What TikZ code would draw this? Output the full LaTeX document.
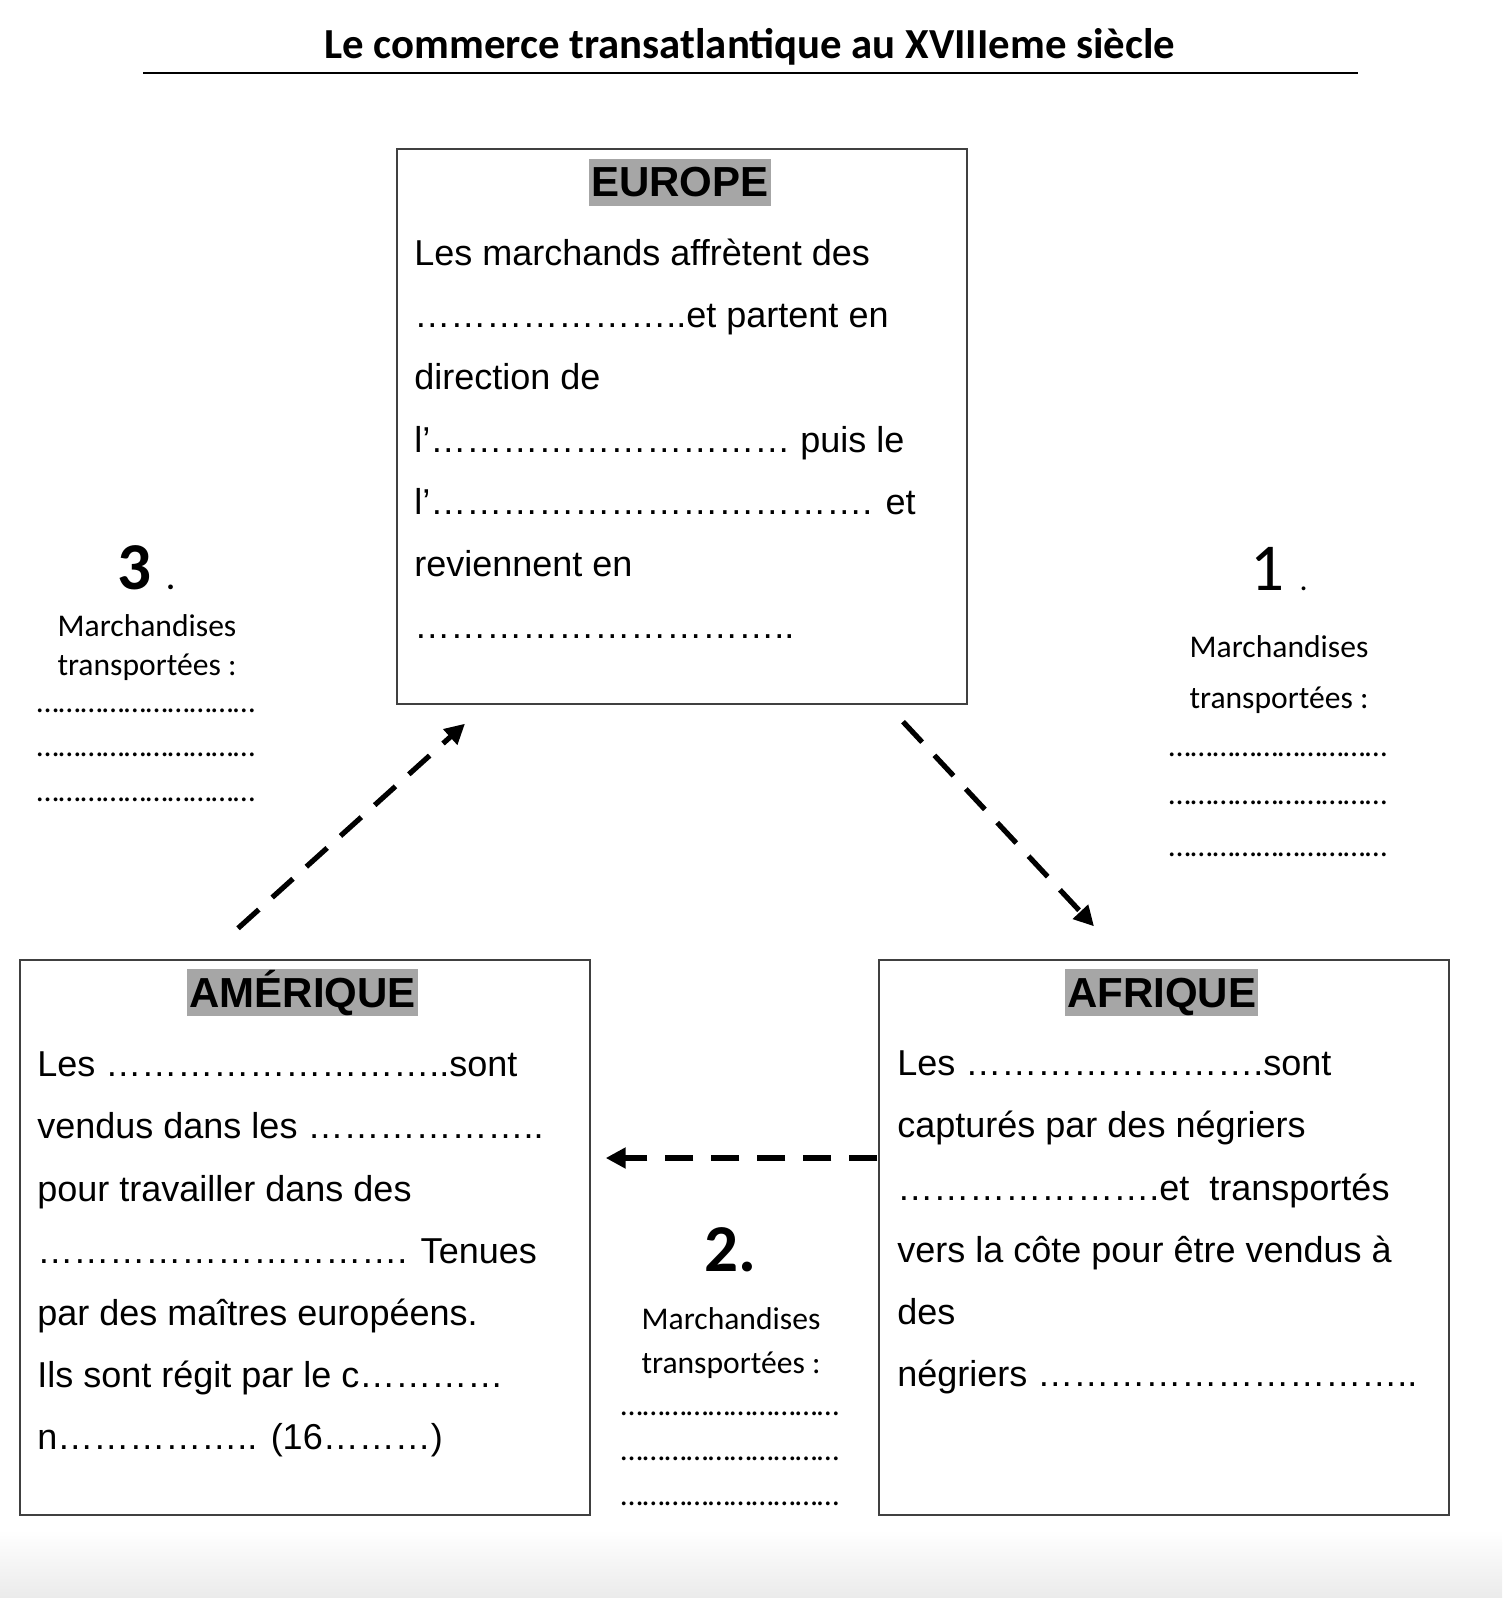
\documentclass[tikz,border=0pt]{standalone}
\usepackage{fontspec}
\setmainfont{Liberation Sans}
\newfontfamily\calibri{Carlito}
\usetikzlibrary{arrows.meta}
\definecolor{bordgris}{RGB}{64,64,64}
\definecolor{surligne}{RGB}{166,166,166}
\newcommand{\pointilles}[1]{\foreach \k in {1,...,#1}{…}}

\begin{document}
\begin{tikzpicture}[
    x=0.5pt, y=-0.5pt,
    pays/.style={draw=bordgris, line width=0.7pt, minimum width=285pt, minimum height=277.5pt, inner sep=0pt},
    nompays/.style={fill=surligne, anchor=base, font=\fontsize{21}{25}\selectfont\bfseries, text height=19pt, text depth=4.5pt, inner xsep=1pt, inner ysep=0pt},
    ligne/.style={anchor=base west, inner sep=0pt, font=\fontsize{18}{22}\selectfont},
    titre/.style={anchor=base, inner sep=0pt, font=\calibri\bfseries\fontsize{21.4}{25}\selectfont},
    numero/.style={anchor=base, inner sep=0pt, font=\calibri\fontsize{33.5}{40}\selectfont},
    march/.style={anchor=base, inner sep=0pt, font=\calibri\fontsize{15.8}{19}\selectfont},
    flux/.style={line width=2.6pt, dash pattern=on 14pt off 9pt, -{Triangle[length=10pt,width=10pt]}},
]
\useasboundingbox (0,0) rectangle (1502,1598);
\shade[top color=white, bottom color=black!8] (0,1530) rectangle (1502,1598);

% ---------------------------------------------------------------- title ---
\node[titre] (titre) at (750,59) {Le commerce transatlantique au XVIIIeme siècle};
\draw[line width=1pt] (143,73) -- (1358,73);

% --------------------------------------------------------------- europe ---
\node[pays] (europe) at (682,426.5) {};
\node[nompays] (europe-nom) at (680,197) {EUROPE};
\foreach \txt [count=\i from 0] in {Les marchands affrètent des, \pointilles{7}..et partent en, direction de, l’\pointilles{10} puis le, l’\pointilles{12}. et, reviennent en, \pointilles{10}..}
  \node[ligne] (europe-\i) at (414,{265.5+62.2*\i}) {\txt};

% ------------------------------------------------------------- amerique ---
\node[pays] (amerique) at (305,1237.5) {};
\node[nompays] (amerique-nom) at (302.6,1007) {AMÉRIQUE};
\foreach \txt [count=\i from 0] in {Les \pointilles{9}..sont, vendus dans les \pointilles{6}.., pour travailler dans des, \pointilles{10}. Tenues, par des maîtres européens., Ils sont régit par le c\pointilles{4}, n\pointilles{5}.. (16\pointilles{3})}
  \node[ligne] (amerique-\i) at (37,{1076.6+62.2*\i}) {\txt};

% -------------------------------------------------------------- afrique ---
\node[pays] (afrique) at (1164,1237.5) {};
\node[nompays] (afrique-nom) at (1161.7,1007) {AFRIQUE};
\foreach \txt [count=\i from 0] in {Les \pointilles{8}.sont, capturés par des négriers, \pointilles{7}.et~ transportés, vers la côte pour être vendus à, des, négriers \pointilles{10}..}
  \node[ligne] (afrique-\i) at (897,{1075.6+62.2*\i}) {\txt};

% ---------------------------------------------------------------- flows ---
\draw[flux] ([shift={(-67,-31)}]amerique.north) -- ([shift={(-217,19)}]europe.south);
\draw[flux] ([shift={(221,17)}]europe.south) -- ([shift={(-70,-33)}]afrique.north);
\draw[flux] ([shift={(-1,-79.5)}]afrique.west) -- ([shift={(15,-79.5)}]amerique.east);

% --------------------------------------------------------- merchandises ---
\node[numero] (num3) at (146,589) {\bfseries 3 {\fontsize{16}{19}\selectfont .}};
\node[march] (march3-a) at (147,636) {Marchandises};
\node[march] (march3-b) at (147,675) {transportées :};
\foreach \y [count=\i] in {712,756,801}
  \node[march] (pts3-\i) at (146,\y) {\pointilles{10}};

\node[numero] (num1) at (1279,590) {1 {\fontsize{16}{19}\selectfont .}};
\node[march] (march1-a) at (1279,657) {Marchandises};
\node[march] (march1-b) at (1279,708) {transportées :};
\foreach \y [count=\i] in {756,804,856}
  \node[march] (pts1-\i) at (1278,\y) {\pointilles{10}};

\node[numero] (num2) at (730,1271) {\bfseries 2.};
\node[march] (march2-a) at (731,1329) {Marchandises};
\node[march] (march2-b) at (731,1373) {transportées :};
\foreach \y [count=\i] in {1415,1460,1505}
  \node[march] (pts2-\i) at (730,\y) {\pointilles{10}};

\end{tikzpicture}
\end{document}
